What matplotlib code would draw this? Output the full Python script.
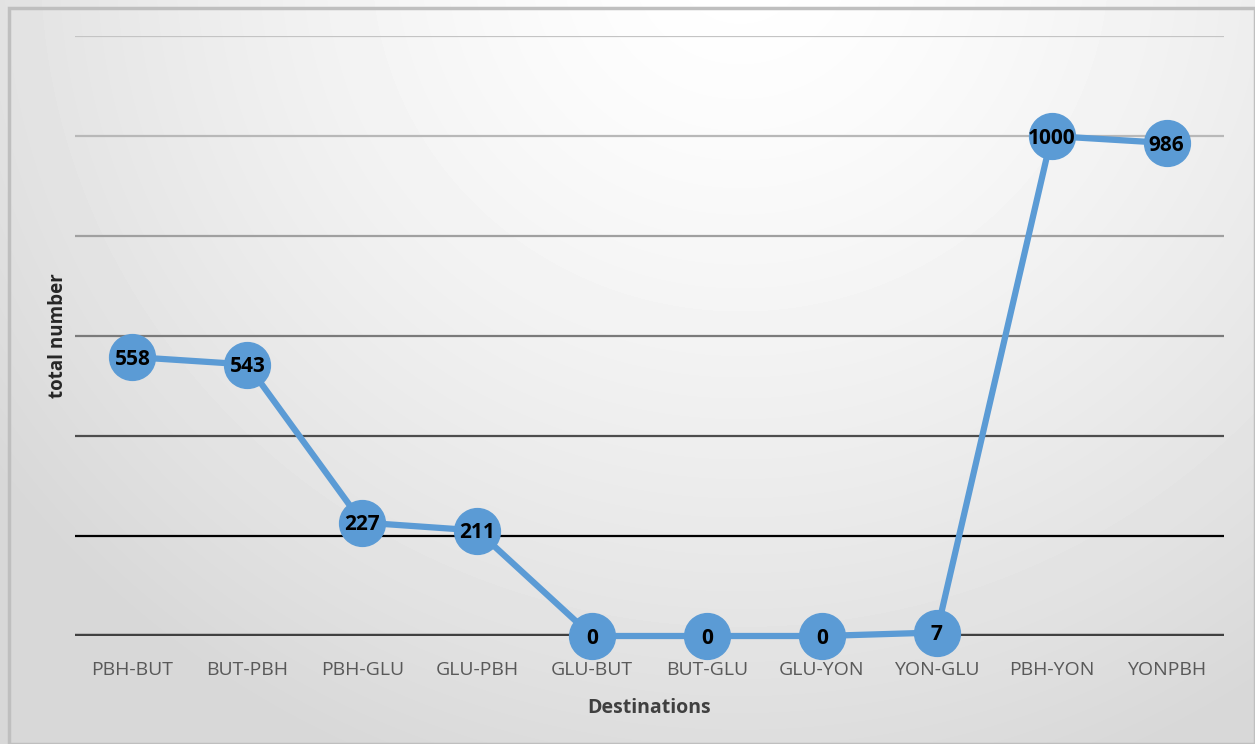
import numpy as np
import matplotlib.pyplot as plt
from matplotlib.patches import Rectangle

# data
destinations = ["PBH-BUT", "BUT-PBH", "PBH-GLU", "GLU-PBH", "GLU-BUT",
                "BUT-GLU", "GLU-YON", "YON-GLU", "PBH-YON", "YONPBH"]
totals = [558, 543, 227, 211, 0, 0, 0, 7, 1000, 986]
grid_levels = [200, 400, 600, 800, 1000, 1200]
grid_colors = ["#000000", "#4d4d4d", "#7a7a7a", "#a0a0a0", "#b8b8b8", "#c4c4c4"]

W, H = 1255, 744
fig = plt.figure(figsize=(W / 100, H / 100), dpi=100)

# radial background gradient, light at the top centre
bg = fig.add_axes([0, 0, 1, 1], zorder=0)
yy, xx = np.mgrid[0:H, 0:W]
r = np.sqrt((xx - 740) ** 2 + ((yy + 40) * 1.05) ** 2)
shade = np.clip(1.0 - 0.15 * (r / 900.0) ** 1.4, 0.845, 1.0)
bg.imshow(shade, cmap="gray", vmin=0, vmax=1, aspect="auto",
          extent=[0, W, H, 0], interpolation="bilinear")
bg.add_patch(Rectangle((9, 8), W - 9, H - 8, fill=False,
                       edgecolor="#bfbfbf", linewidth=2.5))
bg.set_xlim(0, W)
bg.set_ylim(H, 0)
bg.axis("off")

ax = fig.add_axes([75 / W, (H - 636) / H, (1224 - 75) / W, 600 / H], zorder=1)
ax.patch.set_alpha(0)
x = np.arange(len(destinations))

for lvl, col in zip(grid_levels, grid_colors):
    ax.axhline(lvl, color=col, linewidth=1.6, zorder=1)
ax.axhline(0, color="#404040", linewidth=3.2, zorder=1)

ax.plot(x, totals, color="#5b9bd5", linewidth=4.5, zorder=2, clip_on=False,
        marker="o", markersize=33, markerfacecolor="#5b9bd5",
        markeredgecolor="#5b9bd5", solid_capstyle="round")

for xi, v in zip(x, totals):
    ax.text(xi, v, str(v), ha="center", va="center_baseline", fontsize=15,
            fontweight="bold", color="black", family="Open Sans", zorder=3)

ax.set_xlim(-0.5, len(destinations) - 0.5)
ax.set_ylim(0, 1200)
ax.set_xticks(x)
ax.set_xticklabels(destinations, fontsize=14, color="#595959", family="Open Sans")
ax.tick_params(axis="x", length=0, pad=18)
ax.set_yticks([])
for s in ax.spines.values():
    s.set_visible(False)

ax.set_xlabel("Destinations", fontsize=14, fontweight="bold", color="#404040",
              family="Open Sans", labelpad=14)
fig.text(58 / W, 1 - 336 / H, "total number", rotation=90, ha="center",
         va="center", fontsize=13.5, fontweight="bold", color="#262626",
         family="Open Sans")

fig.savefig("out.png", dpi=100)
